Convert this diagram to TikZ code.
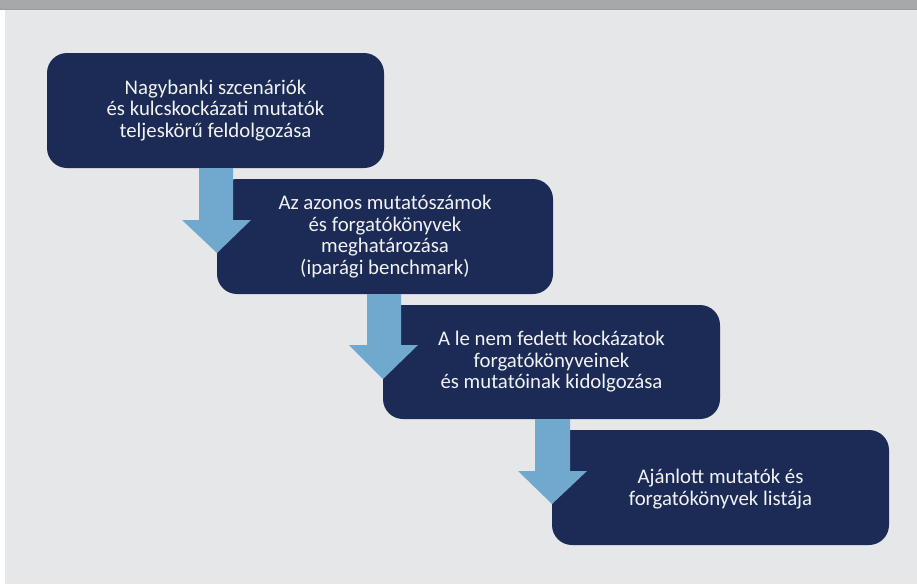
\documentclass[tikz,border=0pt]{standalone}
\usepackage{fontspec}
\setmainfont{Carlito}
\definecolor{bg}{HTML}{E6E7E9}
\definecolor{topbar}{HTML}{A7A8AB}
\definecolor{topline}{HTML}{9A9B9E}
\definecolor{navy}{HTML}{1B2B56}
\definecolor{arrowblue}{HTML}{71A9CE}
\definecolor{txt}{HTML}{F2F2F2}
\tikzset{
  stepbox/.style={text=txt, align=center,
    font=\fontsize{20.8}{21.5}\selectfont, inner sep=0pt},
  boxfill/.style={fill=navy, rounded corners=20pt},
  downarrow/.style={fill=arrowblue}
}
\begin{document}
\begin{tikzpicture}[x=1pt,y=-1pt]
\useasboundingbox (0,0) rectangle (917,584);
\fill[white] (0,0) rectangle (917,584);
\fill[bg] (5,10) rectangle (917,584);
\fill[topbar] (0,0) rectangle (917,9.5);
\fill[topline] (0,8.5) rectangle (917,10);
% boxes
\fill[boxfill] (47,53) rectangle (384,168);
\fill[boxfill] (217,179) rectangle (553,294);
\fill[boxfill] (383,305) rectangle (720,419);
\fill[boxfill] (552,430) rectangle (889,545);
\coordinate (b1) at (215.5,110.5);
\coordinate (b2) at (385,236.5);
\coordinate (b3) at (551.5,362);
\coordinate (b4) at (720.5,489);
% arrows
\fill[downarrow] (199,168) -- (233,168) -- (233,220) -- (251,220) -- (217,253) -- (182,220) -- (199,220) -- cycle;
\fill[downarrow] (367,294) -- (401,294) -- (401,345) -- (418,345) -- (383,379) -- (349,345) -- (367,345) -- cycle;
\fill[downarrow] (535,419) -- (570,419) -- (570,471) -- (587,471) -- (552,504) -- (518,471) -- (535,471) -- cycle;
% texts
\node[stepbox] (t1) at (b1) {Nagybanki szcenáriók\\és kulcskockázati mutatók\\teljeskörű feldolgozása};
\node[stepbox] (t2) at (b2) {Az azonos mutatószámok\\és forgatókönyvek\\meghatározása\\(iparági benchmark)};
\node[stepbox] (t3) at (b3) {A le nem fedett kockázatok\\forgatókönyveinek\\és mutatóinak kidolgozása};
\node[stepbox] (t4) at (b4) {Ajánlott mutatók és\\forgatókönyvek listája};
\end{tikzpicture}
\end{document}
